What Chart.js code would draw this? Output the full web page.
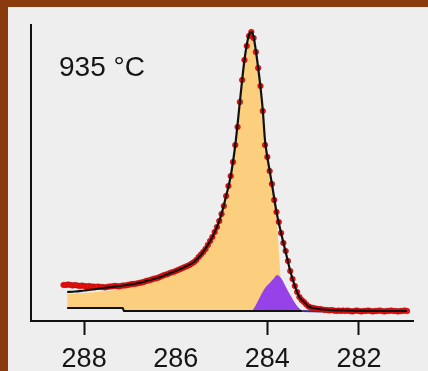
<!DOCTYPE html>
<html>
<head>
<meta charset="utf-8">
<title>C 1s spectrum, 935 °C</title>
<script src="https://cdn.jsdelivr.net/npm/chart.js@4.4.1/dist/chart.umd.min.js"></script>
<style>
  html, body { margin: 0; padding: 0; background: #eeeeee; }
  #frame {
    width: 420px; height: 364px;
    border-left: 8px solid #8a3a0c;
    border-top: 7px solid #8a3a0c;
    background: #eeeeee;
  }
  canvas { display: block; }
</style>
</head>
<body>
<div id="frame"><canvas id="spectrum" width="420" height="364"></canvas></div>
<script>
// Binding energy axis (eV), shown high-to-low
const xTickValues = [288, 286, 284, 282];
const hiddenTickMarks = [286];

// Measured C 1s intensity (arb. units)
const measuredEnergy = [
  288.45, 288.40, 288.35, 288.30, 288.25, 288.20, 288.15, 288.10, 288.05, 288.00,
  287.95, 287.90, 287.85, 287.80, 287.75, 287.70, 287.65, 287.60, 287.55, 287.50,
  287.45, 287.40, 287.35, 287.30, 287.25, 287.20, 287.15, 287.10, 287.05, 287.00,
  286.95, 286.90, 286.85, 286.80, 286.75, 286.70, 286.65, 286.60, 286.55, 286.50,
  286.45, 286.40, 286.35, 286.30, 286.25, 286.20, 286.15, 286.10, 286.05, 286.00,
  285.95, 285.90, 285.85, 285.80, 285.75, 285.70, 285.65, 285.60, 285.55, 285.50,
  285.45, 285.40, 285.35, 285.30, 285.25, 285.20, 285.15, 285.10, 285.05, 285.00,
  284.95, 284.90, 284.85, 284.80, 284.75, 284.70, 284.65, 284.60, 284.55, 284.50,
  284.45, 284.40, 284.35, 284.30, 284.25, 284.20, 284.15, 284.10, 284.05, 284.00,
  283.95, 283.90, 283.85, 283.80, 283.75, 283.70, 283.65, 283.60, 283.55, 283.50,
  283.45, 283.40, 283.35, 283.30, 283.25, 283.20, 283.15, 283.10, 283.05, 283.00,
  282.95, 282.90, 282.85, 282.80, 282.75, 282.70, 282.65, 282.60, 282.55, 282.50,
  282.45, 282.40, 282.35, 282.30, 282.25, 282.20, 282.15, 282.10, 282.05, 282.00,
  281.95, 281.90, 281.85, 281.80, 281.75, 281.70, 281.65, 281.60, 281.55, 281.50,
  281.45, 281.40, 281.35, 281.30, 281.25, 281.20, 281.15, 281.10, 281.05, 281.00,
  280.95
];
const measuredCounts = [
  36, 36, 36.5, 36, 35.5, 36, 35.5, 35, 35.5, 35,
  34.5, 35, 34.5, 34.5, 34, 34.5, 34, 34, 33.5, 34,
  34.5, 34.5, 35, 35, 34.5, 35, 35.5, 35.5, 36, 36.5,
  37, 37, 37.5, 38, 38.5, 39, 40, 40.5, 41, 42,
  42.5, 43, 44, 45, 46, 46.5, 47.5, 48.5, 49, 50,
  51, 52, 53, 54, 55, 56, 57.5, 59, 61, 64,
  66.5, 69, 72, 76, 80, 84, 89, 94, 100, 107,
  115, 125, 135, 145, 159, 176, 194, 219, 241, 261,
  275, 285, 289, 283, 269, 253, 235, 210, 176, 164,
  150, 137, 121, 109, 99, 88, 78, 70, 60, 50,
  42, 35, 29, 24, 21, 19, 16.5, 14.5, 13.5, 13,
  12.5, 12, 12, 11.5, 11, 11, 10.5, 11, 10.5, 10,
  10.5, 10, 10.5, 10, 10.5, 10, 9.5, 10, 10.5, 10,
  9.5, 10, 10, 10.5, 10, 9.5, 10, 10, 10.5, 10,
  9.5, 10, 10, 10.5, 10, 10, 9.5, 10, 10, 10.5,
  10
];

// Fitted envelope
const fitEnergy = [
  288.37, 288.2, 288.0, 287.8, 287.6, 287.4, 287.2, 287.0, 286.8, 286.6,
  286.4, 286.2, 286.0, 285.8, 285.6, 285.5, 285.4, 285.3, 285.2, 285.1,
  285.0, 284.9, 284.8, 284.7, 284.6, 284.55, 284.5, 284.45, 284.4, 284.35,
  284.3, 284.25, 284.2, 284.15, 284.1, 284.05, 284.0, 283.9, 283.8, 283.7,
  283.6, 283.5, 283.4, 283.3, 283.2, 283.1, 283.0, 282.8, 282.6, 282.4,
  282.0, 281.5, 280.95
];
const fitCounts = [
  29, 29.5, 30.5, 31.5, 33, 34, 35, 36.5, 38, 40.5,
  43, 46.5, 50, 54, 59, 63.5, 69, 76, 84, 94,
  107, 125, 145, 176, 219, 241, 261, 276, 286, 289,
  284, 270, 253, 234, 211, 180, 164, 137, 109, 88,
  69, 50, 35, 24, 19, 14.5, 13, 11.5, 10.8, 10.5,
  10.2, 10, 10
];

// Main graphitic component
const mainPeakEnergy = [
  288.37, 288.0, 287.6, 287.2, 287.0, 286.8, 286.6, 286.4, 286.2, 286.0,
  285.8, 285.6, 285.5, 285.4, 285.3, 285.2, 285.1, 285.0, 284.9, 284.8,
  284.7, 284.6, 284.5, 284.45, 284.4, 284.35, 284.3, 284.25, 284.2, 284.1,
  284.0, 283.9, 283.8, 283.75, 283.7, 283.65, 283.6
];
const mainPeakCounts = [
  27, 28, 29.5, 32, 34, 36, 38.5, 41, 44.5, 48,
  52, 57, 61, 67, 74, 82, 92, 105, 122, 143,
  173, 216, 258, 274, 284, 287, 281, 266, 249, 207,
  161, 134, 104, 70, 36, 17, 10
];

// Low binding-energy component
const minorPeakEnergy = [284.33, 284.25, 284.15, 284.05, 283.95, 283.85, 283.79, 283.72, 283.65, 283.55, 283.45, 283.35, 283.24];
const minorPeakCounts = [10, 16, 25, 33, 38, 43, 46, 44, 39, 30, 22, 15, 10];

// Background
const backgroundEnergy = [288.37, 287.16, 287.13, 283.24, 282.82];
const backgroundCounts = [13, 13, 10, 10, 9.5];

const pairs = (xs, ys) => xs.map((x, i) => ({ x: x, y: ys[i] }));

const FONT = '"Liberation Sans", Arial, sans-serif';

const labelPlugin = {
  id: 'sampleLabel',
  afterDraw(chart) {
    const { ctx, chartArea } = chart;
    ctx.save();
    ctx.font = '28px ' + FONT;
    ctx.fillStyle = '#151515';
    ctx.textBaseline = 'alphabetic';
    ctx.textAlign = 'left';
    ctx.fillText('935 °C', chartArea.left + 28, chartArea.top + 50.5);
    ctx.restore();
  }
};

new Chart(document.getElementById('spectrum'), {
  type: 'line',
  data: {
    datasets: [
      {
        label: 'Fit',
        data: pairs(fitEnergy, fitCounts),
        borderColor: '#111111',
        borderWidth: 2.2,
        pointRadius: 0,
        cubicInterpolationMode: 'monotone',
        fill: false
      },
      {
        label: 'Measured',
        data: pairs(measuredEnergy, measuredCounts),
        showLine: false,
        pointRadius: 2.8,
        pointBackgroundColor: '#f01010',
        pointBorderColor: '#a00000',
        pointBorderWidth: 0.5
      },
      {
        label: 'Background',
        data: pairs(backgroundEnergy, backgroundCounts),
        borderColor: '#111111',
        borderWidth: 2,
        pointRadius: 0,
        tension: 0,
        fill: false,
        segment: {
          borderColor: ctx => ctx.p0DataIndex === backgroundEnergy.length - 2 ? '#3d2f85' : '#111111'
        }
      },
      {
        label: 'Minor component',
        data: pairs(minorPeakEnergy, minorPeakCounts),
        borderColor: 'rgba(0,0,0,0)',
        borderWidth: 0,
        pointRadius: 0,
        cubicInterpolationMode: 'monotone',
        backgroundColor: '#9642e8',
        fill: { target: 2 }
      },
      {
        label: 'Main component',
        data: pairs(mainPeakEnergy, mainPeakCounts),
        borderColor: 'rgba(0,0,0,0)',
        borderWidth: 0,
        pointRadius: 0,
        cubicInterpolationMode: 'monotone',
        backgroundColor: '#fccf7e',
        fill: { target: 2 }
      }
    ]
  },
  options: {
    responsive: false,
    animation: false,
    devicePixelRatio: 1,
    layout: { padding: { left: 23, right: 15, top: 18, bottom: 0 } },
    plugins: {
      legend: { display: false },
      tooltip: { enabled: false }
    },
    scales: {
      x: {
        type: 'linear',
        position: 'bottom',
        reverse: true,
        min: 280.82,
        max: 289.16,
        afterBuildTicks: scale => { scale.ticks = xTickValues.map(v => ({ value: v })); },
        afterFit: scale => { scale.height = 50; },
        grid: {
          display: true,
          drawOnChartArea: false,
          drawTicks: true,
          tickLength: 14,
          tickWidth: 2,
          tickColor: ctx => (ctx.tick && hiddenTickMarks.includes(ctx.tick.value)) ? 'rgba(0,0,0,0)' : '#111111'
        },
        border: { display: true, color: '#111111', width: 2 },
        ticks: {
          autoSkip: false,
          maxRotation: 0,
          padding: 11,
          color: '#151515',
          font: { family: FONT, size: 27, lineHeight: 1 },
          callback: v => String(v)
        }
      },
      y: {
        type: 'linear',
        min: 0,
        max: 296,
        ticks: { display: false },
        grid: { display: false, drawTicks: false },
        border: { display: true, color: '#111111', width: 2 }
      }
    }
  },
  plugins: [labelPlugin]
});
</script>
</body>
</html>
